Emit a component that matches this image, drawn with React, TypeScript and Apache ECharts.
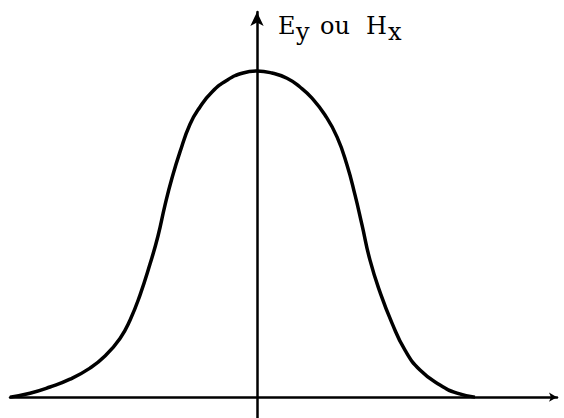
import React, { useEffect, useRef } from "react";
import * as echarts from "echarts";

// Field amplitude profile across the guide (abscissa relative to the centre axis)
const positions = [
  -2.47, -2.27, -2.07, -1.87, -1.67, -1.52, -1.37, -1.27, -1.17, -1.07, -0.99,
  -0.92, -0.85, -0.77, -0.67, -0.57, -0.45, -0.3, -0.14, 0, 0.15, 0.3, 0.43,
  0.55, 0.68, 0.8, 0.9, 0.98, 1.05, 1.13, 1.23, 1.35, 1.48, 1.63, 1.83, 2.0,
  2.18,
];
const amplitude = [
  0, 0.012, 0.031, 0.055, 0.089, 0.126, 0.18, 0.236, 0.313, 0.408, 0.494,
  0.589, 0.672, 0.752, 0.837, 0.89, 0.936, 0.972, 0.994, 1.0, 0.994, 0.978,
  0.951, 0.917, 0.865, 0.798, 0.712, 0.62, 0.528, 0.42, 0.322, 0.227, 0.144,
  0.083, 0.037, 0.012, 0,
];

// Axis title pieces: main letters and their subscripts
const titleParts = [
  { text: "E", sub: false, x: 278 },
  { text: "y", sub: true, x: 296 },
  { text: "ou", sub: false, x: 320 },
  { text: "H", sub: false, x: 366 },
  { text: "x", sub: true, x: 388 },
];

export default function App() {
  const ref = useRef<HTMLDivElement>(null);

  useEffect(() => {
    if (!ref.current) return;
    const chart = echarts.init(ref.current, null, { renderer: "svg" });
    const ink = "#000";

    chart.setOption({
      animation: false,
      backgroundColor: "#fff",
      grid: { left: 10, right: 7, top: 12, bottom: 0, containLabel: false },
      xAxis: {
        type: "value",
        min: -2.47,
        max: 3.0,
        axisLine: {
          onZero: true,
          symbol: ["none", "arrow"],
          symbolSize: [7, 8],
          lineStyle: { color: ink, width: 2.5 },
        },
        axisTick: { show: false },
        axisLabel: { show: false },
        splitLine: { show: false },
      },
      yAxis: {
        type: "value",
        min: -0.064,
        max: 1.181,
        axisLine: {
          onZero: true,
          symbol: ["none", "arrow"],
          symbolSize: [10, 14],
          lineStyle: { color: ink, width: 2.5 },
        },
        axisTick: { show: false },
        axisLabel: { show: false },
        splitLine: { show: false },
      },
      series: [
        {
          type: "line",
          data: positions.map((x, i) => [x, amplitude[i]]),
          smooth: 0.5,
          showSymbol: false,
          lineStyle: { color: ink, width: 3.5 },
        },
      ],
      graphic: titleParts.map((p) => ({
        type: "text",
        left: p.x,
        top: p.sub ? 20 : 14,
        style: {
          text: p.text,
          fill: ink,
          fontSize: 24,
          fontFamily: "DejaVu Serif",
        },
      })),
    });

    return () => chart.dispose();
  }, []);

  return (
    <div
      ref={ref}
      style={{ position: "absolute", left: 0, top: 0, width: 564, height: 418 }}
    />
  );
}
